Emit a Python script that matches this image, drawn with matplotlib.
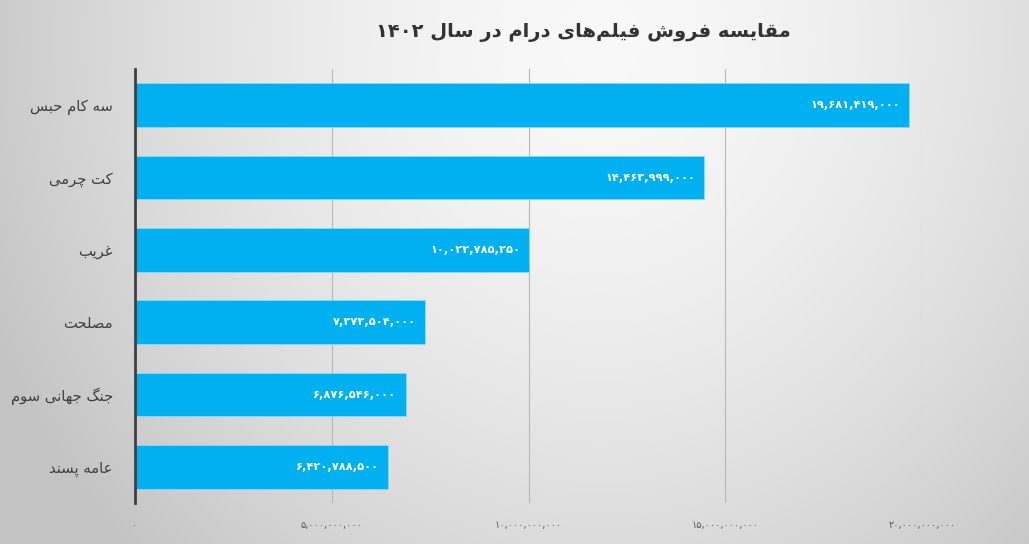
import numpy as np
import matplotlib
matplotlib.use("Agg")
import matplotlib.pyplot as plt

# ---------------- data ----------------
title_text = "مقایسه فروش فیلم‌های درام در سال ۱۴۰۲"
categories = ["سه کام حبس", "کت چرمی", "غریب", "مصلحت", "جنگ جهانی سوم", "عامه پسند"]
sales = [19681419000, 14463999000, 10022785250, 7373504000, 6876546000, 6420788500]
x_ticks = [0, 5000000000, 10000000000, 15000000000, 20000000000]

# ---------------- Persian text helpers ----------------
FORMS = {
    'ا': ('\uFE8D', '\uFE8E', None, None),
    'ب': ('\uFE8F', '\uFE90', '\uFE91', '\uFE92'),
    'پ': ('\uFB56', '\uFB57', '\uFB58', '\uFB59'),
    'ت': ('\uFE95', '\uFE96', '\uFE97', '\uFE98'),
    'ج': ('\uFE9D', '\uFE9E', '\uFE9F', '\uFEA0'),
    'چ': ('\uFB7A', '\uFB7B', '\uFB7C', '\uFB7D'),
    'ح': ('\uFEA1', '\uFEA2', '\uFEA3', '\uFEA4'),
    'د': ('\uFEA9', '\uFEAA', None, None),
    'ر': ('\uFEAD', '\uFEAE', None, None),
    'س': ('\uFEB1', '\uFEB2', '\uFEB3', '\uFEB4'),
    'ش': ('\uFEB5', '\uFEB6', '\uFEB7', '\uFEB8'),
    'ص': ('\uFEB9', '\uFEBA', '\uFEBB', '\uFEBC'),
    'ع': ('\uFEC9', '\uFECA', '\uFECB', '\uFECC'),
    'غ': ('\uFECD', '\uFECE', '\uFECF', '\uFED0'),
    'ف': ('\uFED1', '\uFED2', '\uFED3', '\uFED4'),
    'ق': ('\uFED5', '\uFED6', '\uFED7', '\uFED8'),
    'ک': ('\uFB8E', '\uFB8F', '\uFB90', '\uFB91'),
    'گ': ('\uFB92', '\uFB93', '\uFB94', '\uFB95'),
    'ل': ('\uFEDD', '\uFEDE', '\uFEDF', '\uFEE0'),
    'م': ('\uFEE1', '\uFEE2', '\uFEE3', '\uFEE4'),
    'ن': ('\uFEE5', '\uFEE6', '\uFEE7', '\uFEE8'),
    'ه': ('\uFEE9', '\uFEEA', '\uFEEB', '\uFEEC'),
    'و': ('\uFEED', '\uFEEE', None, None),
    'ی': ('\uFBFC', '\uFBFD', '\uFBFE', '\uFBFF'),
}


def shape_word(w):
    out = []
    for i, c in enumerate(w):
        if c not in FORMS:
            if c != '\u200c':
                out.append(c)
            continue
        prev = w[i - 1] if i > 0 else None
        nxt = w[i + 1] if i + 1 < len(w) else None
        jp = prev in FORMS and FORMS[prev][2] is not None
        jn = nxt in FORMS and FORMS[c][2] is not None
        iso, fin, ini, med = FORMS[c]
        if jp and jn:
            out.append(med)
        elif jp:
            out.append(fin)
        elif jn:
            out.append(ini)
        else:
            out.append(iso)
    return ''.join(out)


def rtl(s):
    words = s.split(' ')
    vis = []
    for w in reversed(words):
        if any(ch in FORMS for ch in w):
            vis.append(shape_word(w)[::-1])
        else:
            vis.append(w)
    return ' '.join(vis)


PDIG = str.maketrans('0123456789', '۰۱۲۳۴۵۶۷۸۹')


def fa_num(v):
    return f"{v:,}".translate(PDIG)


# ---------------- figure ----------------
W, H = 1029, 544
fig = plt.figure(figsize=(W / 100, H / 100), dpi=100)

# background gradient
bg = fig.add_axes([0, 0, 1, 1], zorder=-10)
yy, xx = np.mgrid[0:H, 0:W]
d = np.sqrt(((xx - 600) / 1.0) ** 2 + ((yy - 40) / 1.1) ** 2)
v = 0.975 - 0.20 * (d / 650.0) ** 1.6
v = np.clip(v, 0.77, 0.98)
bg.imshow(np.dstack([v, v, v]), aspect='auto', extent=[0, 1, 0, 1], origin='upper')
bg.axis('off')

ax = fig.add_axes([135 / W, 1 - 503 / H, (922 - 135) / W, (503 - 69) / H])
ax.set_facecolor('none')

y = np.arange(len(categories))
ax.barh(y, sales, height=0.6, color='#00B0F0', edgecolor='#8fd8f5',
        linewidth=0.6, zorder=3)
ax.set_xlim(0, 20000000000)
ax.set_ylim(len(categories) - 0.5, -0.5)

ax.set_xticks(x_ticks)
ax.set_xticklabels([fa_num(t) for t in x_ticks], fontsize=7, color='#595959',
                   family='DejaVu Sans')
ax.tick_params(axis='x', length=0, pad=12)
ax.set_yticks(y)
ax.set_yticklabels([rtl(c) for c in categories], fontsize=10.6, color='#404040',
                   family='DejaVu Sans')
ax.tick_params(axis='y', length=0, pad=16)

ax.grid(axis='x', color='#b8b8b8', linewidth=0.8, zorder=0)
for s in ['top', 'right', 'bottom']:
    ax.spines[s].set_visible(False)
ax.spines['left'].set_color('#404040')
ax.spines['left'].set_linewidth(2)
ax.spines['left'].set_zorder(4)

for yi, val in zip(y, sales):
    ax.annotate(fa_num(val), xy=(val, yi), xytext=(-6.5, 0), textcoords='offset points',
                ha='right', va='center', color='white', fontsize=8.2,
                fontweight='bold', family='DejaVu Sans', zorder=5)

fig.text(583 / W, 1 - 33 / H, rtl(title_text), ha='center', va='center',
         fontsize=14, fontweight='bold', color='#333333', family='DejaVu Sans')

fig.savefig('out.png', dpi=100)
